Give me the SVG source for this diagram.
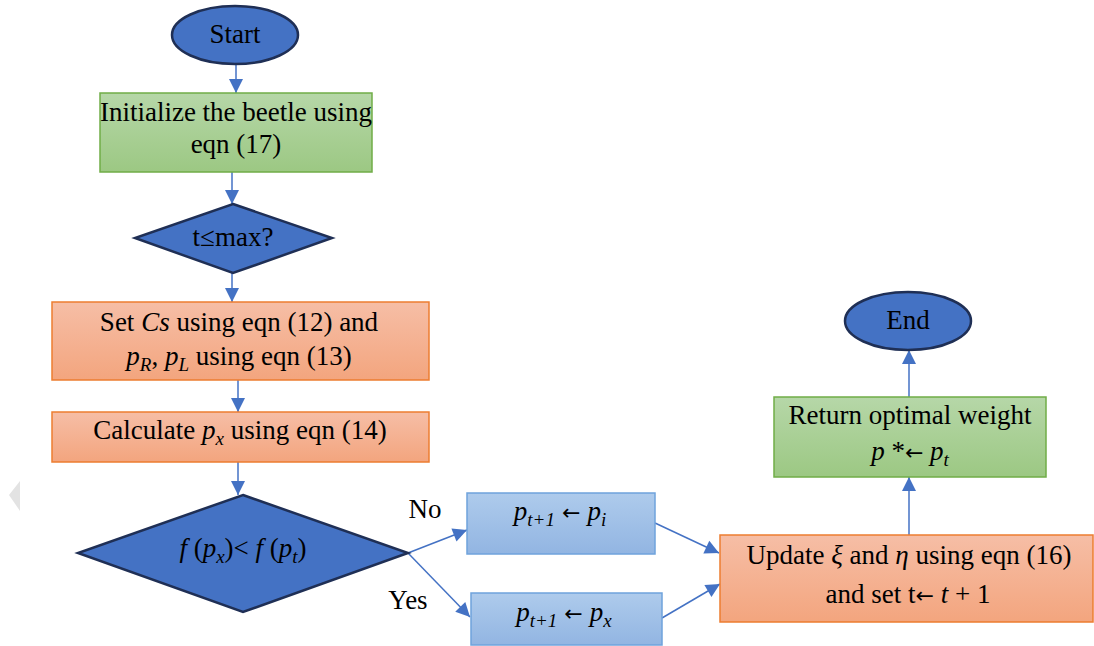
<svg xmlns="http://www.w3.org/2000/svg" width="1094" height="646" viewBox="0 0 1094 646">
<style>
text{font-family:"Liberation Serif","Times New Roman",serif;font-size:27px;fill:#000;text-anchor:middle}
.m{font-style:italic}
.s{font-size:19px;font-style:italic}
.ar{font-family:"DejaVu Sans",sans-serif;font-size:22px;font-style:normal}
.term{fill:#4472C4;stroke:#1F2F55;stroke-width:2.5}
.dec{fill:#4472C4;stroke:#1F2F55;stroke-width:2.5}
.green{fill:url(#gG);stroke:#70AD47;stroke-width:1.5}
.orange{fill:url(#gO);stroke:#ED7D31;stroke-width:1.5}
.lblue{fill:url(#gB);stroke:#6FA3DC;stroke-width:1.5}
.c{stroke:#4472C4;stroke-width:1.5;fill:none;marker-end:url(#ah)}
</style>
<defs>
<linearGradient id="gG" x1="0" y1="0" x2="0" y2="1"><stop offset="0" stop-color="#B6D7A8"/><stop offset="1" stop-color="#9CC883"/></linearGradient>
<linearGradient id="gO" x1="0" y1="0" x2="0" y2="1"><stop offset="0" stop-color="#F6BEA6"/><stop offset="1" stop-color="#F3A57E"/></linearGradient>
<linearGradient id="gB" x1="0" y1="0" x2="0" y2="1"><stop offset="0" stop-color="#AECBEC"/><stop offset="1" stop-color="#92B5E2"/></linearGradient>
<marker id="ah" markerUnits="userSpaceOnUse" markerWidth="16" markerHeight="16" viewBox="0 0 16 16" refX="15" refY="8" orient="auto"><path d="M1,1 L15,8 L1,15 Z" fill="#4472C4"/></marker>
</defs>
<rect width="1094" height="646" fill="#fff"/>
<path d="M20,481 L9,495 L20,511 Z" fill="#E3E3E3"/>
<g id="connectors">
<line class="c" x1="236" y1="64" x2="236" y2="93"/>
<line class="c" x1="232" y1="172" x2="232" y2="204"/>
<line class="c" x1="232" y1="273" x2="232" y2="302"/>
<line class="c" x1="238" y1="380" x2="238" y2="412"/>
<line class="c" x1="238" y1="462" x2="238" y2="495"/>
<line class="c" x1="408" y1="553" x2="467" y2="530"/>
<line class="c" x1="408" y1="553" x2="470" y2="617"/>
<line class="c" x1="655" y1="523" x2="719" y2="553"/>
<line class="c" x1="662" y1="618" x2="720" y2="584"/>
<line class="c" x1="909" y1="535" x2="909" y2="477"/>
<line class="c" x1="909" y1="397" x2="909" y2="350"/>
</g>
<g id="start"><ellipse class="term" cx="235" cy="35" rx="63" ry="29"/><text x="235" y="43">Start</text></g>
<g id="init"><rect class="green" x="100" y="93" width="272" height="79"/><text x="236" y="121">Initialize the beetle using</text><text x="236" y="153">eqn (17)</text></g>
<g id="cond1"><polygon class="dec" points="233,204 332,238 233,273 135,238"/><text x="233" y="246">t≤max?</text></g>
<g id="setcs"><rect class="orange" x="52" y="302" width="377" height="78"/><text x="239" y="331">Set <tspan class="m">Cs</tspan> using eqn (12) and</text><text x="239" y="365"><tspan class="m">p</tspan><tspan class="s" dy="6">R</tspan><tspan dy="-6">, </tspan><tspan class="m">p</tspan><tspan class="s" dy="6">L</tspan><tspan dy="-6"> using eqn (13)</tspan></text></g>
<g id="calc"><rect class="orange" x="52" y="412" width="377" height="50"/><text x="240" y="439">Calculate  <tspan class="m">p</tspan><tspan class="s" dy="6">x</tspan><tspan dy="-6"> using eqn (14)</tspan></text></g>
<g id="cond2"><polygon class="dec" points="243,495 408,553 243,612 78,553"/><text x="243" y="557"><tspan class="m">f</tspan> (<tspan class="m">p</tspan><tspan class="s" dy="6">x</tspan><tspan dy="-6">)&lt; </tspan><tspan class="m">f</tspan> (<tspan class="m">p</tspan><tspan class="s" dy="6">t</tspan><tspan dy="-6">)</tspan></text></g>
<text x="425" y="518">No</text>
<text x="408" y="609">Yes</text>
<g id="pi"><rect class="lblue" x="467" y="493" width="188" height="61"/><text x="560" y="520"><tspan class="m">p</tspan><tspan class="s" dy="6">t+1</tspan><tspan class="ar" dy="-6"> ← </tspan><tspan class="m">p</tspan><tspan class="s" dy="6">i</tspan></text></g>
<g id="px"><rect class="lblue" x="471" y="593" width="191" height="52"/><text x="564" y="621"><tspan class="m">p</tspan><tspan class="s" dy="6">t+1</tspan><tspan class="ar" dy="-6"> ← </tspan><tspan class="m">p</tspan><tspan class="s" dy="6">x</tspan></text></g>
<g id="update"><rect class="orange" x="720" y="535" width="373" height="87"/><text x="909" y="564">Update <tspan class="m">ξ</tspan> and <tspan class="m">η</tspan> using eqn (16)</text><text x="908" y="603">and set t<tspan class="ar">←</tspan> <tspan class="m">t</tspan> + 1</text></g>
<g id="ret"><rect class="green" x="774" y="397" width="272" height="80"/><text x="910" y="424">Return optimal weight</text><text x="910" y="460"><tspan class="m">p</tspan> *<tspan class="ar">←</tspan> <tspan class="m">p</tspan><tspan class="s" dy="6">t</tspan></text></g>
<g id="end"><ellipse class="term" cx="908" cy="321" rx="63" ry="29"/><text x="908" y="329">End</text></g>
</svg>
